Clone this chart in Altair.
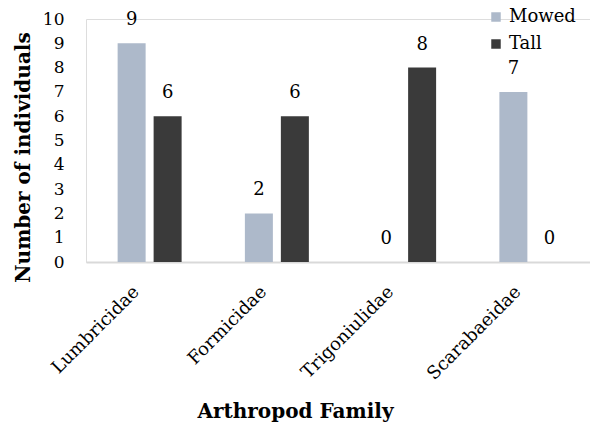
import altair as alt
import pandas as pd

families = ["Lumbricidae", "Formicidae", "Trigoniulidae", "Scarabaeidae"]
mowed = [9, 2, 0, 7]
tall = [6, 6, 8, 0]
groups = ["Mowed", "Tall"]
colors = ["#adb9ca", "#3a3a3a"]
y_ticks = [0, 1, 2, 3, 4, 5, 6, 7, 8, 9, 10]

rows = []
for i, f in enumerate(families):
    rows.append({"family": f, "group": "Mowed", "count": mowed[i]})
    rows.append({"family": f, "group": "Tall", "count": tall[i]})
df = pd.DataFrame(rows)

FONT = "DejaVu Serif"

x = alt.X("family:N", sort=families, title="Arthropod Family",
          scale=alt.Scale(paddingInner=0, paddingOuter=0, range=[0, 509]),
          axis=alt.Axis(labelAngle=-45, labelAlign="right", labelBaseline="middle",
                        labelPadding=27, labelOffset=-13, ticks=False,
                        domainColor="#d9d9d9", domainWidth=2,
                        labelFont=FONT, labelFontSize=18, labelColor="#000000",
                        titleFont=FONT, titleFontSize=20, titleFontWeight="bold",
                        titleColor="#000000", titleX=209, titleY=149,
                        titleBaseline="middle", titleAlign="center"))
xo = alt.XOffset("group:N", sort=groups,
                 scale=alt.Scale(paddingInner=0.222, paddingOuter=0.879))
y = alt.Y("count:Q", title="Number of individuals",
          scale=alt.Scale(domain=[0, 10], nice=False, zero=True),
          axis=alt.Axis(values=y_ticks, tickCount=11, grid=False, domain=False, ticks=False,
                        labelOverlap=False, labelBound=False,
                        labelPadding=22, labelFont=FONT, labelFontSize=17,
                        labelColor="#000000",
                        titleFont=FONT, titleFontSize=20, titleFontWeight="bold",
                        titleColor="#000000", titleX=-63, titleY=138,
                        titleBaseline="middle", titleAlign="center", titleAngle=-90))

base = alt.Chart(df)
bars = base.mark_bar(size=28).encode(
    x=x, xOffset=xo, y=y,
    color=alt.Color("group:N", sort=groups, title=None,
                    scale=alt.Scale(domain=groups, range=colors),
                    legend=alt.Legend(orient="none", legendX=401, legendY=-11,
                                      symbolType="square", symbolSize=90,
                                      labelFont=FONT, labelFontSize=18,
                                      labelColor="#000000", rowPadding=9,
                                      symbolStrokeWidth=0)))
labels = base.mark_text(font=FONT, fontSize=18, color="#000000",
                        baseline="middle", dy=-23).encode(
    x=x, xOffset=xo, y=y, text="count:Q")

chart = (bars + labels).properties(
    width=504, height=243,
    autosize=alt.AutoSizeParams(type="none"),
    padding={"left": 86, "top": 19, "right": 0, "bottom": 163},
).configure_view(stroke=None).configure(background="white")

chart.save("out.html", embed_options={"renderer": "svg", "actions": False})
